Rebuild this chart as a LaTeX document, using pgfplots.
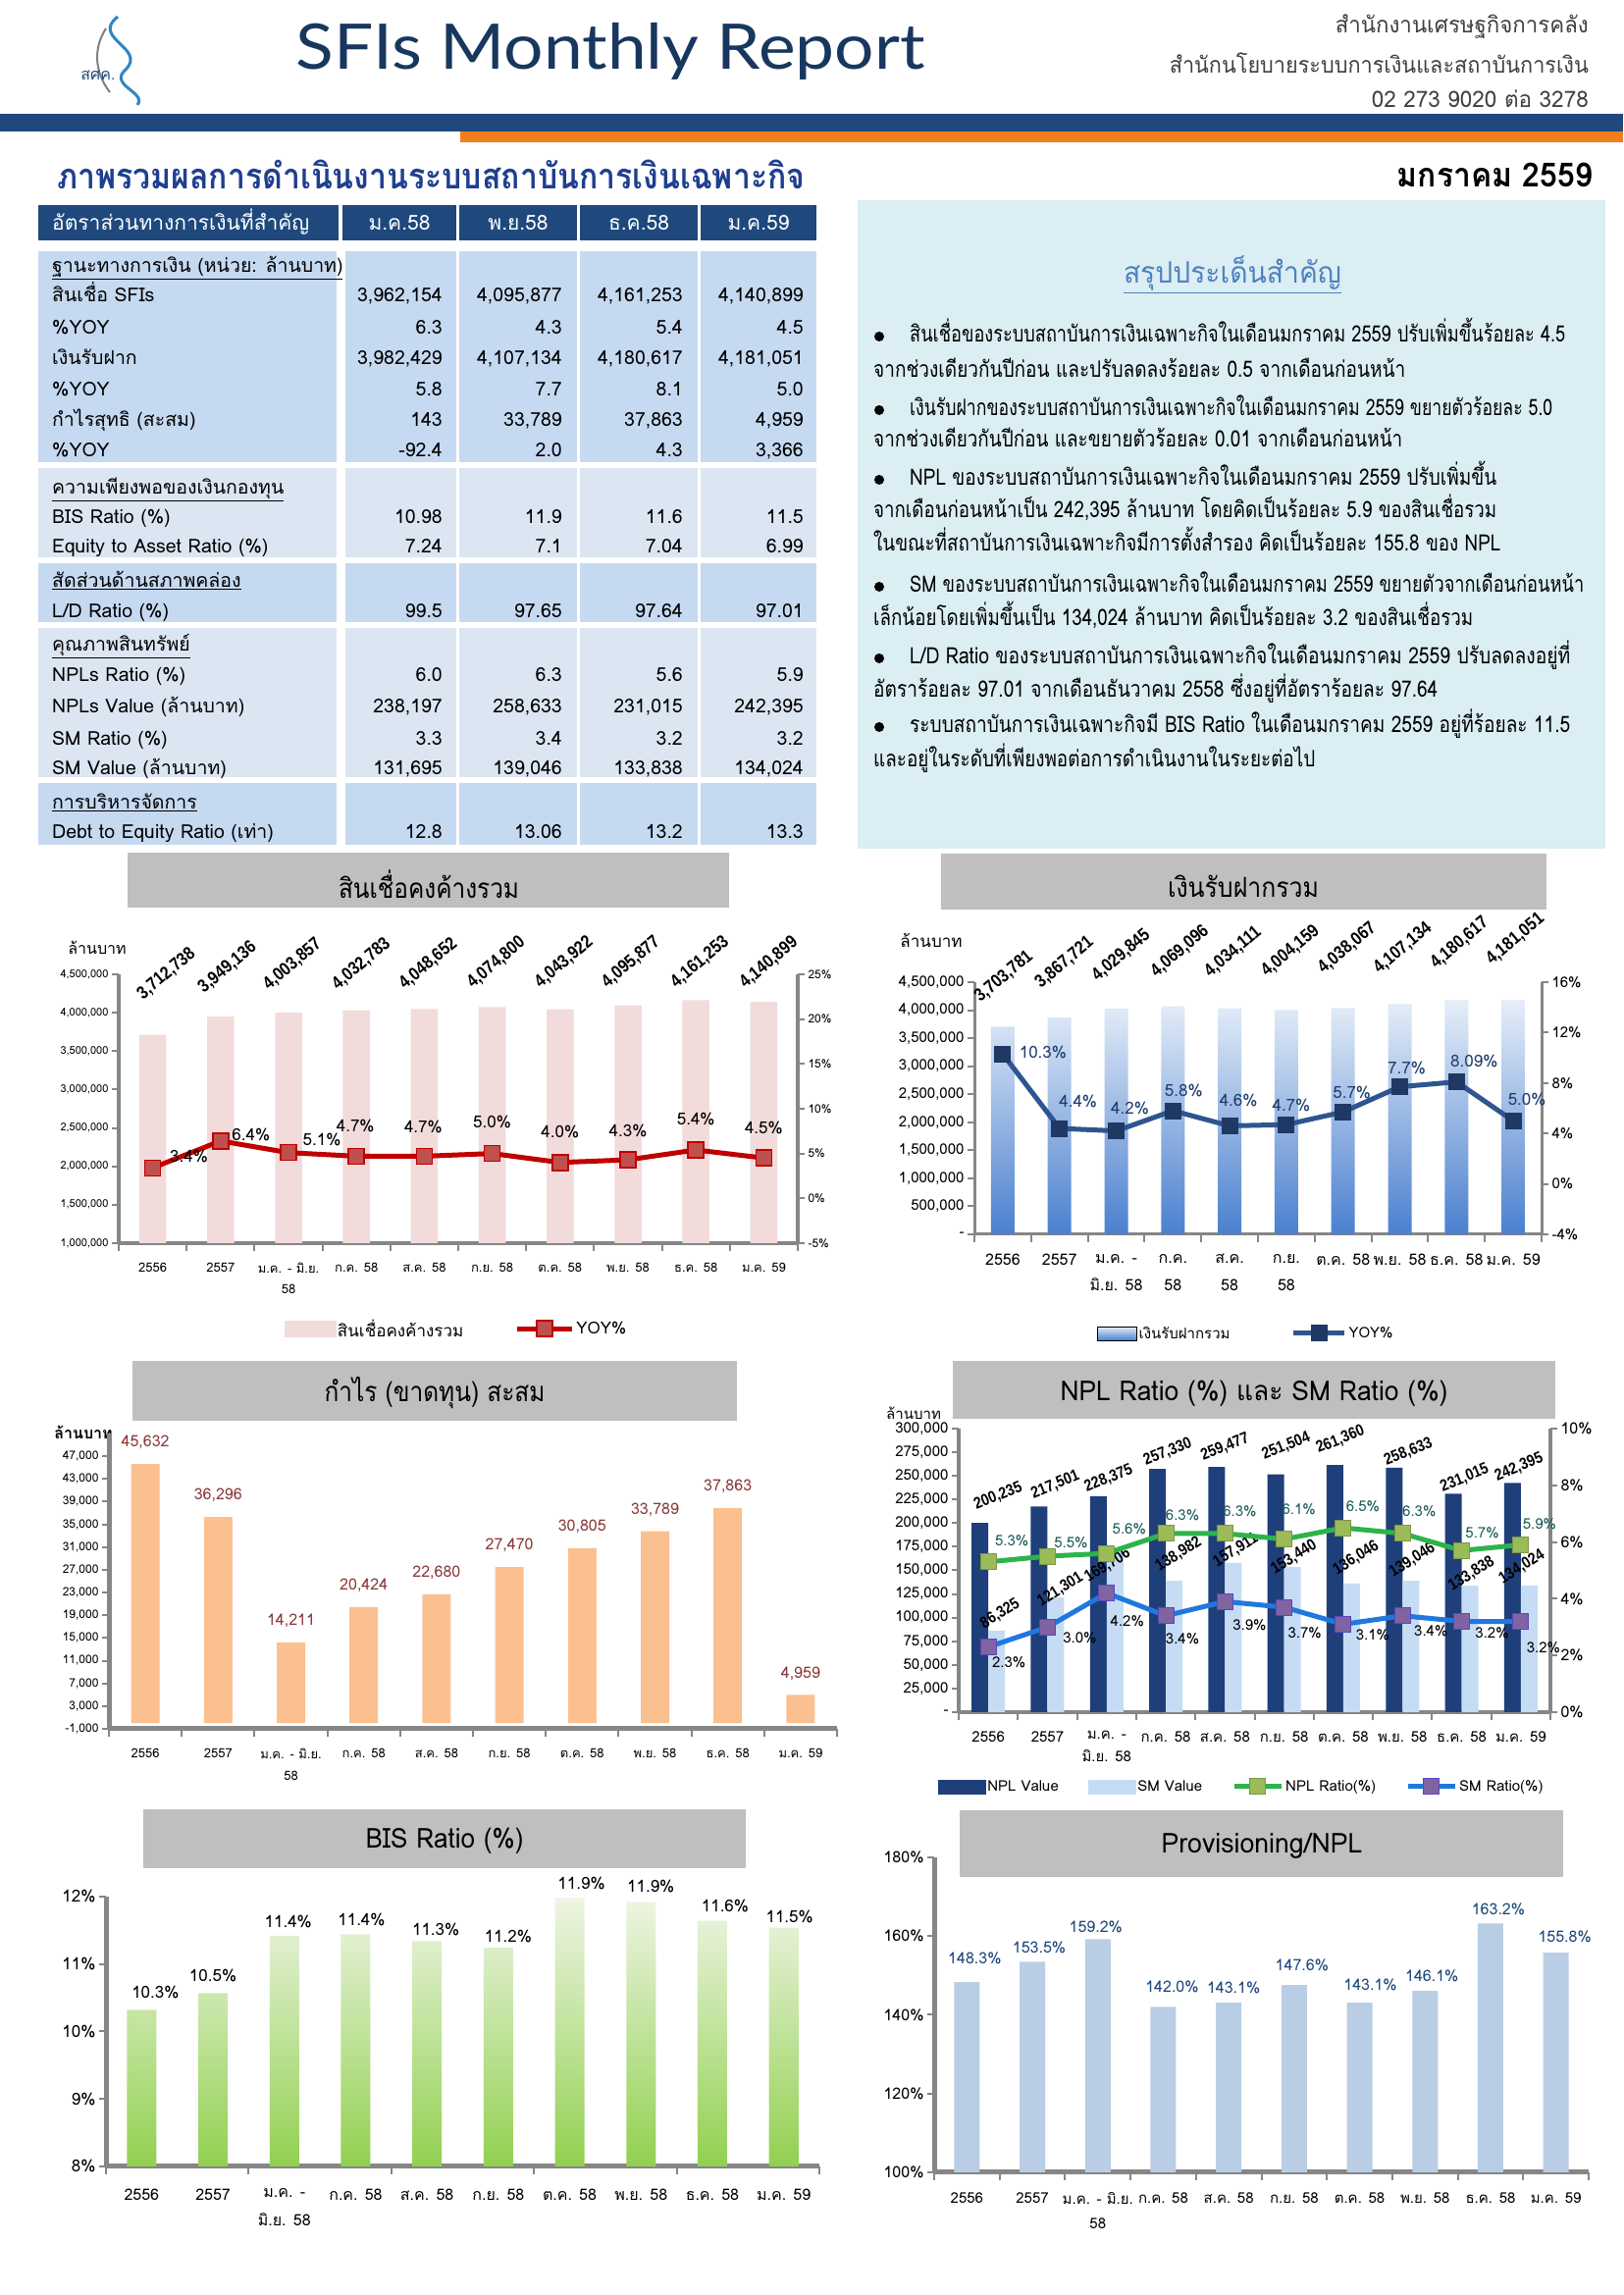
\documentclass[border=0pt]{standalone}
\usepackage{fontspec}
\usepackage{graphicx}
\usepackage{pgfplots}
\usepackage{pgfplotstable}
\pgfplotsset{compat=1.18}
\setmainfont{Loma}[Script=Thai]
\newfontfamily\headfont{Lato}
\newfontfamily\numfont{Liberation Sans}[FakeStretch=0.86]
\newcommand{\fz}[2]{\fontsize{#1bp}{#2bp}\selectfont}
\newcommand{\fitw}[2]{\resizebox{#1bp}{\height}{#2}}

\definecolor{navy}{HTML}{1F497D}
\definecolor{orangebar}{HTML}{F07F1B}
\definecolor{headblue}{HTML}{17375E}
\definecolor{titleblue}{HTML}{1F3F8F}
\definecolor{midblue}{HTML}{C5D9F1}
\definecolor{lightblue}{HTML}{DCE6F2}
\definecolor{boxblue}{HTML}{DAEEF3}
\definecolor{sumblue}{HTML}{4F81BD}
\definecolor{titlegray}{HTML}{BFBFBF}
\definecolor{axgray}{HTML}{868686}
\definecolor{pinkbar}{HTML}{F2DCDB}
\definecolor{yoyred}{HTML}{C00000}
\definecolor{markred}{HTML}{C0504D}
\definecolor{depTop}{HTML}{E6EEF8}
\definecolor{depBot}{HTML}{4A80CF}
\definecolor{depLine}{HTML}{2E5590}
\definecolor{depMark}{HTML}{1F3864}
\definecolor{depLab}{HTML}{1F3F6F}
\definecolor{profit}{HTML}{FAC090}
\definecolor{profitLab}{HTML}{8B3A3A}
\definecolor{nplBar}{HTML}{1F3F7A}
\definecolor{smBar}{HTML}{C6DCF5}
\definecolor{nplLine}{HTML}{2DB34A}
\definecolor{nplMark}{HTML}{9BBB59}
\definecolor{nplLab}{HTML}{1E5E5A}
\definecolor{smLine}{HTML}{1F78E0}
\definecolor{smMark}{HTML}{8064A2}
\definecolor{bisTop}{HTML}{EEF5E4}
\definecolor{bisBot}{HTML}{92D050}
\definecolor{provBar}{HTML}{B9CDE5}
\definecolor{provLab}{HTML}{1F497D}
\definecolor{txtgray}{HTML}{404040}
\definecolor{logoblue}{HTML}{2E86C1}

\pgfplotsset{
  base/.style={scale only axis, anchor=south west,
    xmin=-0.5, xmax=9.5, xtick={0,1,...,9},
    minor xtick={-0.5,0.5,...,9.5},
    tick align=outside, major tick length=7bp, minor tick length=8bp,
    every tick/.append style={draw=axgray, line width=2bp},
    every major x tick/.append style={draw=none},
    scaled y ticks=false,
    xticklabel style={align=center, text=black},
    yticklabel style={text=black}},
}

\pgfplotstableread{
x loan loanlab ldx ldy yoy yoylab ydx ydy
0 3712738 3,712,738 -8 33 3.4 3.4 37 12
1 3949136 3,949,136 -15 21 6.4 6.4 31 6
2 4003857 4,003,857 -18 20 5.1 5.1 34 13
3 4032783 4,032,783 -17 18 4.7 4.7 -1 31
4 4048652 4,048,652 -18 17 4.7 4.7 -1 30
5 4074800 4,074,800 -18 16 5.0 5.0 0 32
6 4043922 4,043,922 -18 19 4.0 4.0 0 31
7 4095877 4,095,877 -19 15 4.3 4.3 0 30
8 4161253 4,161,253 -18 10 5.4 5.4 0 31
9 4140899 4,140,899 -17 11 4.5 4.5 0 31
}\tabA

\pgfplotstableread{
x dep deplab ldx ldy yoy yoylab ydx ydy
0 3703781 3,703,781 -21 22 10.3 10.3 41 2
1 3867721 3,867,721 -17 27 4.4 4.4 19 28
2 4029845 4,029,845 -17 25 4.2 4.2 14 23
3 4069096 4,069,096 -15 27 5.8 5.8 11 21
4 4034111 4,034,111 -18 29 4.6 4.6 9 26
5 4004159 4,004,159 -18 31 4.7 4.7 5 20
6 4038067 4,038,067 -18 32 5.7 5.7 9 20
7 4107134 4,107,134 -19 28 7.7 7.7 7 19
8 4180617 4,180,617 -19 29 8.09 8.09 18 21
9 4181051 4,181,051 -20 33 5.0 5.0 14 22
}\tabB

\pgfplotstableread{
x val lab
0 45632 45,632
1 36296 36,296
2 14211 14,211
3 20424 20,424
4 22680 22,680
5 27470 27,470
6 30805 30,805
7 33789 33,789
8 37863 37,863
9 4959 4,959
}\tabC

\pgfplotstableread{
x npl npllab ndx ndy sm smlab sdx sdy nr nrlab nrdx nrdy sr srlab srdx srdy
0 200235 200,235 10 27 86325 86,325 12 17 5.3 5.3 24 22 2.3 2.3 21 -16
1 217501 217,501 8 22 121301 121,301 13 8 5.5 5.5 24 14 3.0 3.0 33 -11
2 228375 228,375 2 18 169706 169,706 1 -14 5.6 5.6 23 25 4.2 4.2 21 -29
3 257330 257,330 2 17 138982 138,982 13 27 6.3 6.3 17 19 3.4 3.4 17 -23
4 259477 259,477 0 20 157911 157,911 11 13 6.3 6.3 15 23 3.9 3.9 25 -24
5 251504 251,504 2 29 153440 153,440 10 10 6.1 6.1 15 30 3.7 3.7 21 -26
6 261360 261,360 -3 26 136046 136,046 13 26 6.5 6.5 20 22 3.1 3.1 30 -11
7 258633 258,633 6 16 139046 139,046 10 21 6.3 6.3 17 23 3.4 3.4 29 -15
8 231015 231,015 3 16 133838 133,838 10 12 5.7 5.7 21 18 3.2 3.2 31 -12
9 242395 242,395 -2 16 134024 134,024 1 19 5.9 5.9 19 21 3.2 3.2 23 -27
}\tabD

\pgfplotstableread{
x v lab dx dy
0 10.32 10.3 14 18
1 10.57 10.5 0 18
2 11.42 11.4 4 14
3 11.44 11.4 6 15
4 11.34 11.3 9 12
5 11.24 11.2 10 12
6 11.98 11.9 12 15
7 11.92 11.9 10 16
8 11.64 11.6 13 15
9 11.54 11.5 6 11
}\tabE

\pgfplotstableread{
x v lab dx dy
0 148.3 148.3 8 24
1 153.5 153.5 7 14
2 159.2 159.2 -2 13
3 142.0 142.0 9 21
4 143.1 143.1 5 15
5 147.6 147.6 8 20
6 143.1 143.1 11 18
7 146.1 146.1 7 15
8 163.2 163.2 8 15
9 155.8 155.8 9 16
}\tabF

\newcommand{\trow}[6]{%
  \node[anchor=base west, inner sep=0] at (53,#1) {\fz{19.5}{19.5}#2};
  \node[anchor=base east, inner sep=0] at (451,#1) {\fz{19.5}{19.5}#3};
  \node[anchor=base east, inner sep=0] at (573,#1) {\fz{19.5}{19.5}#4};
  \node[anchor=base east, inner sep=0] at (696,#1) {\fz{19.5}{19.5}#5};
  \node[anchor=base east, inner sep=0] at (819,#1) {\fz{19.5}{19.5}#6};}
\newcommand{\thead}[2]{\node[anchor=base west, inner sep=0] at (53,#1) {\fz{19.5}{19.5}\underline{#2}};}
\newcommand{\tl}[4]{\node[anchor=base west, inner sep=0] at (#1,#2) {\fitw{#3}{\fz{23}{23}#4}};}

\begin{document}
\begin{tikzpicture}[x=1bp,y=1bp]
\path[use as bounding box, fill=white] (0,0) rectangle (1654,2339);

% ================= HEADER
\fill[navy] (0,2205) rectangle (1654,2223);
\fill[orangebar] (469,2194) rectangle (1654,2205);
\draw[logoblue, line width=3bp] (120,2322) .. controls (92,2300) and (150,2290) .. (128,2268) .. controls (110,2252) and (150,2245) .. (140,2232);
\draw[gray, line width=2bp] (108,2310) .. controls (92,2285) and (100,2260) .. (112,2245);
\node[inner sep=0, text=navy] at (100,2262) {\fz{16}{16}สศค.};
\node[inner sep=0, text=headblue] at (622,2287) {\fitw{641}{\headfont\fz{64}{64}SFIs Monthly Report}};
\node[anchor=base east, inner sep=0, text=txtgray] at (1619,2305) {\fitw{258}{\fz{23}{23}สำนักงานเศรษฐกิจการคลัง}};
\node[anchor=base east, inner sep=0, text=txtgray] at (1619,2264) {\fitw{427}{\fz{23}{23}สำนักนโยบายระบบการเงินและสถาบันการเงิน}};
\node[anchor=base east, inner sep=0, text=txtgray] at (1619,2229) {\fitw{221}{\fz{23}{23}02 273 9020 ต่อ 3278}};

\node[anchor=base west, inner sep=0] at (58,2146) {\fitw{762}{\color{titleblue}\bfseries\fz{36}{36}ภาพรวมผลการดำเนินงานระบบสถาบันการเงินเฉพาะกิจ}};
\node[anchor=base east, inner sep=0] at (1623,2148) {\fitw{199}{\bfseries\fz{34}{34}มกราคม 2559}};

% ================= TABLE
\fill[navy] (39,2094) rectangle (345,2130);
\fill[navy] (349,2094) rectangle (465,2130);
\fill[navy] (468,2094) rectangle (588,2130);
\fill[navy] (591,2094) rectangle (711,2130);
\fill[navy] (714,2094) rectangle (832,2130);
\foreach \ya/\yb/\cc in {1868/2083/midblue,1771/1862/lightblue,1705/1765/midblue,1547/1699/lightblue,1478/1541/midblue}{
  \fill[\cc] (39,\ya) rectangle (343,\yb);
  \fill[\cc] (352,\ya) rectangle (465,\yb);
  \fill[\cc] (468,\ya) rectangle (588,\yb);
  \fill[\cc] (591,\ya) rectangle (711,\yb);
  \fill[\cc] (714,\ya) rectangle (832,\yb);
}
\node[anchor=base west, inner sep=0, text=white] at (53,2104) {\fz{21}{21}อัตราส่วนทางการเงินที่สำคัญ};
\node[anchor=base, inner sep=0, text=white] at (407,2104) {\fz{21}{21}ม.ค.58};
\node[anchor=base, inner sep=0, text=white] at (528,2104) {\fz{21}{21}พ.ย.58};
\node[anchor=base, inner sep=0, text=white] at (651,2104) {\fz{21}{21}ธ.ค.58};
\node[anchor=base, inner sep=0, text=white] at (773,2104) {\fz{21}{21}ม.ค.59};

\thead{2061}{ฐานะทางการเงิน (หน่วย: ล้านบาท)}
\trow{2031}{สินเชื่อ SFIs}{3,962,154}{4,095,877}{4,161,253}{4,140,899}
\trow{1998}{\%YOY}{6.3}{4.3}{5.4}{4.5}
\trow{1967}{เงินรับฝาก}{3,982,429}{4,107,134}{4,180,617}{4,181,051}
\trow{1935}{\%YOY}{5.8}{7.7}{8.1}{5.0}
\trow{1904}{กำไรสุทธิ (สะสม)}{143}{33,789}{37,863}{4,959}
\trow{1873}{\%YOY}{-92.4}{2.0}{4.3}{3,366}
\thead{1835}{ความเพียงพอของเงินกองทุน}
\trow{1805}{BIS Ratio (\%)}{10.98}{11.9}{11.6}{11.5}
\trow{1775}{Equity to Asset Ratio (\%)}{7.24}{7.1}{7.04}{6.99}
\thead{1740}{สัดส่วนด้านสภาพคล่อง}
\trow{1709}{L/D Ratio (\%)}{99.5}{97.65}{97.64}{97.01}
\thead{1675}{คุณภาพสินทรัพย์}
\trow{1644}{NPLs Ratio (\%)}{6.0}{6.3}{5.6}{5.9}
\trow{1612}{NPLs Value (ล้านบาท)}{238,197}{258,633}{231,015}{242,395}
\trow{1579}{SM Ratio (\%)}{3.3}{3.4}{3.2}{3.2}
\trow{1549}{SM Value (ล้านบาท)}{131,695}{139,046}{133,838}{134,024}
\thead{1514}{การบริหารจัดการ}
\trow{1484}{Debt to Equity Ratio (เท่า)}{12.8}{13.06}{13.2}{13.3}

% ================= SUMMARY BOX
\fill[boxblue] (874,1474) rectangle (1636,2135);
\node[anchor=base, inner sep=0, text=sumblue] at (1256,2050) {\fitw{222}{\fz{30}{30}\underline{สรุปประเด็นสำคัญ}}};
\foreach \yy in {1996,1921,1850,1741,1668,1598} {\fill[black] (896,\yy) circle (5);}
\tl{927}{1990}{668}{สินเชื่อของระบบสถาบันการเงินเฉพาะกิจในเดือนมกราคม 2559 ปรับเพิ่มขึ้นร้อยละ 4.5}
\tl{890}{1954}{542}{จากช่วงเดียวกันปีก่อน และปรับลดลงร้อยละ 0.5 จากเดือนก่อนหน้า}
\tl{927}{1915}{655}{เงินรับฝากของระบบสถาบันการเงินเฉพาะกิจในเดือนมกราคม 2559 ขยายตัวร้อยละ 5.0}
\tl{890}{1883}{539}{จากช่วงเดียวกันปีก่อน และขยายตัวร้อยละ 0.01 จากเดือนก่อนหน้า}
\tl{927}{1844}{598}{NPL ของระบบสถาบันการเงินเฉพาะกิจในเดือนมกราคม 2559 ปรับเพิ่มขึ้น}
\tl{890}{1811}{635}{จากเดือนก่อนหน้าเป็น 242,395 ล้านบาท โดยคิดเป็นร้อยละ 5.9 ของสินเชื่อรวม}
\tl{890}{1777}{639}{ในขณะที่สถาบันการเงินเฉพาะกิจมีการตั้งสำรอง คิดเป็นร้อยละ 155.8 ของ NPL}
\tl{927}{1735}{687}{SM ของระบบสถาบันการเงินเฉพาะกิจในเดือนมกราคม 2559 ขยายตัวจากเดือนก่อนหน้า}
\tl{890}{1701}{611}{เล็กน้อยโดยเพิ่มขึ้นเป็น 134,024 ล้านบาท คิดเป็นร้อยละ 3.2 ของสินเชื่อรวม}
\tl{927}{1662}{673}{L/D Ratio ของระบบสถาบันการเงินเฉพาะกิจในเดือนมกราคม 2559 ปรับลดลงอยู่ที่}
\tl{890}{1628}{575}{อัตราร้อยละ 97.01 จากเดือนธันวาคม 2558 ซึ่งอยู่ที่อัตราร้อยละ 97.64}
\tl{927}{1592}{673}{ระบบสถาบันการเงินเฉพาะกิจมี BIS Ratio ในเดือนมกราคม 2559 อยู่ที่ร้อยละ 11.5}
\tl{890}{1557}{450}{และอยู่ในระดับที่เพียงพอต่อการดำเนินงานในระยะต่อไป}

% ================= CHART TITLES
\fill[titlegray] (130,1414) rectangle (743,1470);
\node[inner sep=0] at (437,1438) {\fitw{184}{\fz{28}{28}สินเชื่อคงค้างรวม}};
\fill[titlegray] (959,1412) rectangle (1576,1469);
\node[inner sep=0] at (1267,1436) {\fitw{154}{\fz{28}{28}เงินรับฝากรวม}};
\fill[titlegray] (135,891) rectangle (751,952);
\node[inner sep=0] at (443,919) {\fitw{225}{\fz{28}{28}กำไร (ขาดทุน) สะสม}};
\fill[titlegray] (971,893) rectangle (1585,952);
\node[inner sep=0] at (1278,919) {\fitw{395}{\fz{28}{28}NPL Ratio (\%) และ SM Ratio (\%)}};
\fill[titlegray] (146,435) rectangle (760,495);
\node[inner sep=0] at (453,463) {\fitw{161}{\fz{28}{28}BIS Ratio (\%)}};
\fill[titlegray] (978,426) rectangle (1593,494);
\node[inner sep=0] at (1286,458) {\fitw{205}{\fz{28}{28}Provisioning/NPL}};

\node[inner sep=0] at (99,1373) {\fz{16}{16}ล้านบาท};
\node[inner sep=0] at (949,1381) {\fz{17}{17}ล้านบาท};
\node[inner sep=0] at (85,879) {\bfseries\fz{16}{16}ล้านบาท};
\node[inner sep=0] at (931,899) {\fz{15}{15}ล้านบาท};

% ================= CHART 1
\begin{axis}[base, at={(121bp,1072bp)}, width=692bp, height=274bp,
  ymin=1000000, ymax=4500000, axis x line*=bottom, axis y line*=left,
  axis line style={draw=axgray, line width=3.5bp},
  ytick={1000000,1500000,2000000,2500000,3000000,3500000,4000000,4500000},
  yticklabels={{1,000,000},{1,500,000},{2,000,000},{2,500,000},{3,000,000},{3,500,000},{4,000,000},{4,500,000}},
  yticklabel style={font=\fz{11}{11}},
  xticklabels={2556,2557,{ม.ค. - มิ.ย.\\58},ก.ค. 58,ส.ค. 58,ก.ย. 58,ต.ค. 58,พ.ย. 58,ธ.ค. 58,ม.ค. 59},
  xticklabel style={font=\fz{13}{21}, yshift=-10bp}]
\addplot[ybar, bar width=27.5bp, fill=pinkbar, draw=none, nodes near coords, point meta=explicit symbolic,
  visualization depends on={\thisrow{ldx}\as\LDX},
  visualization depends on={\thisrow{ldy}\as\LDY},
  every node near coord/.append style={xshift=\LDX*1bp, yshift=\LDY*1bp, rotate=40, anchor=south west, inner sep=0pt, font=\numfont\bfseries\fz{18.5}{18.5}, text=black}]
  table[x=x, y=loan, meta=loanlab]{\tabA};
\end{axis}
\begin{axis}[base, at={(121bp,1072bp)}, width=692bp, height=274bp,
  ymin=-5, ymax=25, axis x line=none, axis y line*=right,
  axis line style={draw=axgray, line width=3.5bp},
  ytick={-5,0,5,10,15,20,25}, yticklabels={-5\%,0\%,5\%,10\%,15\%,20\%,25\%},
  yticklabel style={font=\fz{12}{12}},
  legend columns=2,
  legend style={at={(0.497,-0.318)}, anchor=center, draw=none, fill=none, font=\fz{17}{17},
    /tikz/every even column/.append style={column sep=50bp}},
  legend image code/.code={\draw[mark repeat=2,mark phase=2,#1] plot coordinates {(0bp,0bp)(28bp,0bp)(56bp,0bp)};}]
\addlegendimage{legend image code/.code={\fill[pinkbar] (0bp,-8bp) rectangle (52bp,8bp);}}
\addlegendentry{สินเชื่อคงค้างรวม}
\addplot[color=yoyred, line width=5bp, mark=square*, mark size=8bp,
  mark options={fill=markred, draw=yoyred, line width=1.5bp},
  nodes near coords={\pgfplotspointmeta\%}, point meta=explicit symbolic,
  visualization depends on={\thisrow{ydx}\as\YDX},
  visualization depends on={\thisrow{ydy}\as\YDY},
  every node near coord/.append style={xshift=\YDX*1bp, yshift=\YDY*1bp, anchor=center, font=\fz{17}{17}, text=black}]
  table[x=x, y=yoy, meta=yoylab]{\tabA};
\addlegendentry{YOY\%}
\end{axis}

% ================= CHART 2
\begin{axis}[base, at={(993bp,1081bp)}, width=578bp, height=257bp,
  ymin=0, ymax=4500000, axis x line*=bottom, axis y line*=left,
  axis line style={draw=axgray, line width=3bp},
  ytick={0,500000,1000000,1500000,2000000,2500000,3000000,3500000,4000000,4500000},
  yticklabels={-,{500,000},{1,000,000},{1,500,000},{2,000,000},{2,500,000},{3,000,000},{3,500,000},{4,000,000},{4,500,000}},
  yticklabel style={font=\fz{15}{15}},
  xticklabels={2556,2557,{ม.ค. -\\มิ.ย. 58},{ก.ค.\\58},{ส.ค.\\58},{ก.ย.\\58},ต.ค. 58,พ.ย. 58,ธ.ค. 58,ม.ค. 59},
  xticklabel style={font=\fz{16}{28}, yshift=-10bp}]
\addplot[ybar, bar width=24bp, draw=none, top color=depTop, bottom color=depBot, nodes near coords, point meta=explicit symbolic,
  visualization depends on={\thisrow{ldx}\as\LDX},
  visualization depends on={\thisrow{ldy}\as\LDY},
  every node near coord/.append style={xshift=\LDX*1bp, yshift=\LDY*1bp, rotate=40, anchor=south west, inner sep=0pt, font=\numfont\bfseries\fz{18.5}{18.5}, text=black}]
  table[x=x, y=dep, meta=deplab]{\tabB};
\end{axis}
\begin{axis}[base, at={(993bp,1081bp)}, width=578bp, height=257bp,
  ymin=-4, ymax=16, axis x line=none, axis y line*=right,
  axis line style={draw=axgray, line width=3bp},
  ytick={-4,0,4,8,12,16}, yticklabels={-4\%,0\%,4\%,8\%,12\%,16\%},
  yticklabel style={font=\fz{15}{15}},
  legend columns=2,
  legend style={at={(0.479,-0.393)}, anchor=center, draw=none, fill=none, font=\fz{15}{15},
    /tikz/every even column/.append style={column sep=60bp}},
  legend image code/.code={\draw[mark repeat=2,mark phase=2,#1] plot coordinates {(0bp,0bp)(26bp,0bp)(52bp,0bp)};}]
\addlegendimage{legend image code/.code={\shade[top color=depTop, bottom color=depBot] (0bp,-7bp) rectangle (40bp,7bp);}}
\addlegendentry{เงินรับฝากรวม}
\addplot[color=depLine, line width=5bp, mark=square*, mark size=8bp,
  mark options={fill=depMark, draw=depMark, line width=1bp},
  nodes near coords={\pgfplotspointmeta\%}, point meta=explicit symbolic,
  visualization depends on={\thisrow{ydx}\as\YDX},
  visualization depends on={\thisrow{ydy}\as\YDY},
  every node near coord/.append style={xshift=\YDX*1bp, yshift=\YDY*1bp, anchor=center, font=\fz{17}{17}, text=depLab}]
  table[x=x, y=yoy, meta=yoylab]{\tabB};
\addlegendentry{YOY\%}
\end{axis}

% ================= CHART 3
\begin{axis}[base, at={(111bp,577bp)}, width=742bp, height=301bp,
  ymin=-1000, ymax=51000, axis x line*=bottom, axis y line*=left,
  axis line style={draw=axgray, line width=5bp},
  ytick={-1000,3000,7000,11000,15000,19000,23000,27000,31000,35000,39000,43000,47000},
  yticklabels={{-1,000},{3,000},{7,000},{11,000},{15,000},{19,000},{23,000},{27,000},{31,000},{35,000},{39,000},{43,000},{47,000}},
  yticklabel style={font=\fz{12}{12}},
  xticklabels={2556,2557,{ม.ค. - มิ.ย.\\58},ก.ค. 58,ส.ค. 58,ก.ย. 58,ต.ค. 58,พ.ย. 58,ธ.ค. 58,ม.ค. 59},
  xticklabel style={font=\fz{13}{22}, yshift=-10bp}]
\addplot[ybar, bar width=29bp, fill=profit, draw=none, nodes near coords, point meta=explicit symbolic,
  every node near coord/.append style={yshift=22bp, anchor=center, font=\fz{16}{16}, text=profitLab}]
  table[x=x, y=val, meta=lab]{\tabC};
\end{axis}

% ================= CHART 4
\begin{axis}[base, at={(977bp,594bp)}, width=603bp, height=289bp,
  ymin=0, ymax=300000, axis x line*=bottom, axis y line*=left,
  axis line style={draw=axgray, line width=4bp},
  ytick={0,25000,50000,75000,100000,125000,150000,175000,200000,225000,250000,275000,300000},
  yticklabels={-,{25,000},{50,000},{75,000},{100,000},{125,000},{150,000},{175,000},{200,000},{225,000},{250,000},{275,000},{300,000}},
  yticklabel style={font=\fz{15}{15}},
  xticklabels={2556,2557,{ม.ค. -\\มิ.ย. 58},ก.ค. 58,ส.ค. 58,ก.ย. 58,ต.ค. 58,พ.ย. 58,ธ.ค. 58,ม.ค. 59},
  xticklabel style={font=\fz{15}{23}, yshift=-9bp}]
\addplot[ybar, bar width=17bp, bar shift=-8.5bp, fill=nplBar, draw=none, nodes near coords, point meta=explicit symbolic,
  visualization depends on={\thisrow{ndx}\as\NDX},
  visualization depends on={\thisrow{ndy}\as\NDY},
  every node near coord/.append style={xshift=\NDX*1bp, yshift=\NDY*1bp, rotate=22, anchor=center, inner sep=0pt, font=\numfont\bfseries\fz{16.5}{16.5}, text=black}]
  table[x=x, y=npl, meta=npllab]{\tabD};
\addplot[ybar, bar width=17bp, bar shift=8.5bp, fill=smBar, draw=none, nodes near coords, point meta=explicit symbolic,
  visualization depends on={\thisrow{sdx}\as\SDX},
  visualization depends on={\thisrow{sdy}\as\SDY},
  every node near coord/.append style={xshift=\SDX*1bp, yshift=\SDY*1bp, rotate=32, anchor=center, inner sep=0pt, font=\numfont\bfseries\fz{16.5}{16.5}, text=black}]
  table[x=x, y=sm, meta=smlab]{\tabD};
\end{axis}
\begin{axis}[base, at={(977bp,594bp)}, width=603bp, height=289bp,
  ymin=0, ymax=10, axis x line=none, axis y line*=right,
  axis line style={draw=axgray, line width=4bp},
  ytick={0,2,4,6,8,10}, yticklabels={0\%,2\%,4\%,6\%,8\%,10\%},
  yticklabel style={font=\fz{16}{16}},
  legend columns=4,
  legend style={at={(0.478,-0.263)}, anchor=center, draw=none, fill=none, font=\fz{15}{15},
    /tikz/every even column/.append style={column sep=28bp}},
  legend image code/.code={\draw[mark repeat=2,mark phase=2,#1] plot coordinates {(0bp,0bp)(24bp,0bp)(48bp,0bp)};}]
\addlegendimage{legend image code/.code={\fill[nplBar] (0bp,-7bp) rectangle (48bp,7bp);}}
\addlegendentry{NPL Value}
\addlegendimage{legend image code/.code={\fill[smBar] (0bp,-7bp) rectangle (48bp,7bp);}}
\addlegendentry{SM Value}
\addplot[color=nplLine, line width=5bp, mark=square*, mark size=8bp,
  mark options={fill=nplMark, draw=nplMark!80!black, line width=1bp},
  nodes near coords={\pgfplotspointmeta\%}, point meta=explicit symbolic,
  visualization depends on={\thisrow{nrdx}\as\RDX},
  visualization depends on={\thisrow{nrdy}\as\RDY},
  every node near coord/.append style={xshift=\RDX*1bp, yshift=\RDY*1bp, anchor=center, font=\fz{15}{15}, text=nplLab}]
  table[x=x, y=nr, meta=nrlab]{\tabD};
\addlegendentry{NPL Ratio(\%)}
\addplot[color=smLine, line width=5bp, mark=square*, mark size=8bp,
  mark options={fill=smMark, draw=smMark!70!blue, line width=1bp},
  nodes near coords={\pgfplotspointmeta\%}, point meta=explicit symbolic,
  visualization depends on={\thisrow{srdx}\as\QDX},
  visualization depends on={\thisrow{srdy}\as\QDY},
  every node near coord/.append style={xshift=\QDX*1bp, yshift=\QDY*1bp, anchor=center, font=\fz{15}{15}, text=black}]
  table[x=x, y=sr, meta=srlab]{\tabD};
\addlegendentry{SM Ratio(\%)}
\end{axis}

% ================= CHART 5
\begin{axis}[base, at={(108bp,131bp)}, width=727bp, height=275bp,
  ymin=8, ymax=12, axis x line*=bottom, axis y line*=left,
  axis line style={draw=axgray, line width=5bp},
  minor xtick={-0.5,1.5,3.5,5.5,7.5,9.5},
  ytick={8,9,10,11,12}, yticklabels={8\%,9\%,10\%,11\%,12\%},
  yticklabel style={font=\fz{17}{17}},
  xticklabels={2556,2557,{ม.ค. -\\มิ.ย. 58},ก.ค. 58,ส.ค. 58,ก.ย. 58,ต.ค. 58,พ.ย. 58,ธ.ค. 58,ม.ค. 59},
  xticklabel style={font=\fz{16}{29}, yshift=-12bp}]
\addplot[ybar, bar width=30bp, draw=none, top color=bisTop, bottom color=bisBot, nodes near coords={\pgfplotspointmeta\%}, point meta=explicit symbolic,
  visualization depends on={\thisrow{dx}\as\BDX},
  visualization depends on={\thisrow{dy}\as\BDY},
  every node near coord/.append style={xshift=\BDX*1bp, yshift=\BDY*1bp, anchor=center, font=\fz{17}{17}, text=black}]
  table[x=x, y=v, meta=lab]{\tabE};
\end{axis}

% ================= CHART 6
\begin{axis}[base, at={(952bp,125bp)}, width=667bp, height=321bp,
  ymin=100, ymax=180, axis x line*=bottom, axis y line*=left,
  axis line style={draw=axgray, line width=5bp},
  ytick={100,120,140,160,180}, yticklabels={100\%,120\%,140\%,160\%,180\%},
  yticklabel style={font=\fz{16}{16}},
  xticklabels={2556,2557,{ม.ค. - มิ.ย.\\58},ก.ค. 58,ส.ค. 58,ก.ย. 58,ต.ค. 58,พ.ย. 58,ธ.ค. 58,ม.ค. 59},
  xticklabel style={font=\fz{15}{25}, yshift=-10bp}]
\addplot[ybar, bar width=26bp, fill=provBar, draw=none, nodes near coords={\pgfplotspointmeta\%}, point meta=explicit symbolic,
  visualization depends on={\thisrow{dx}\as\PDX},
  visualization depends on={\thisrow{dy}\as\PDY},
  every node near coord/.append style={xshift=\PDX*1bp, yshift=\PDY*1bp, anchor=center, font=\fz{16}{16}, text=provLab}]
  table[x=x, y=v, meta=lab]{\tabF};
\end{axis}

\end{tikzpicture}
\end{document}
